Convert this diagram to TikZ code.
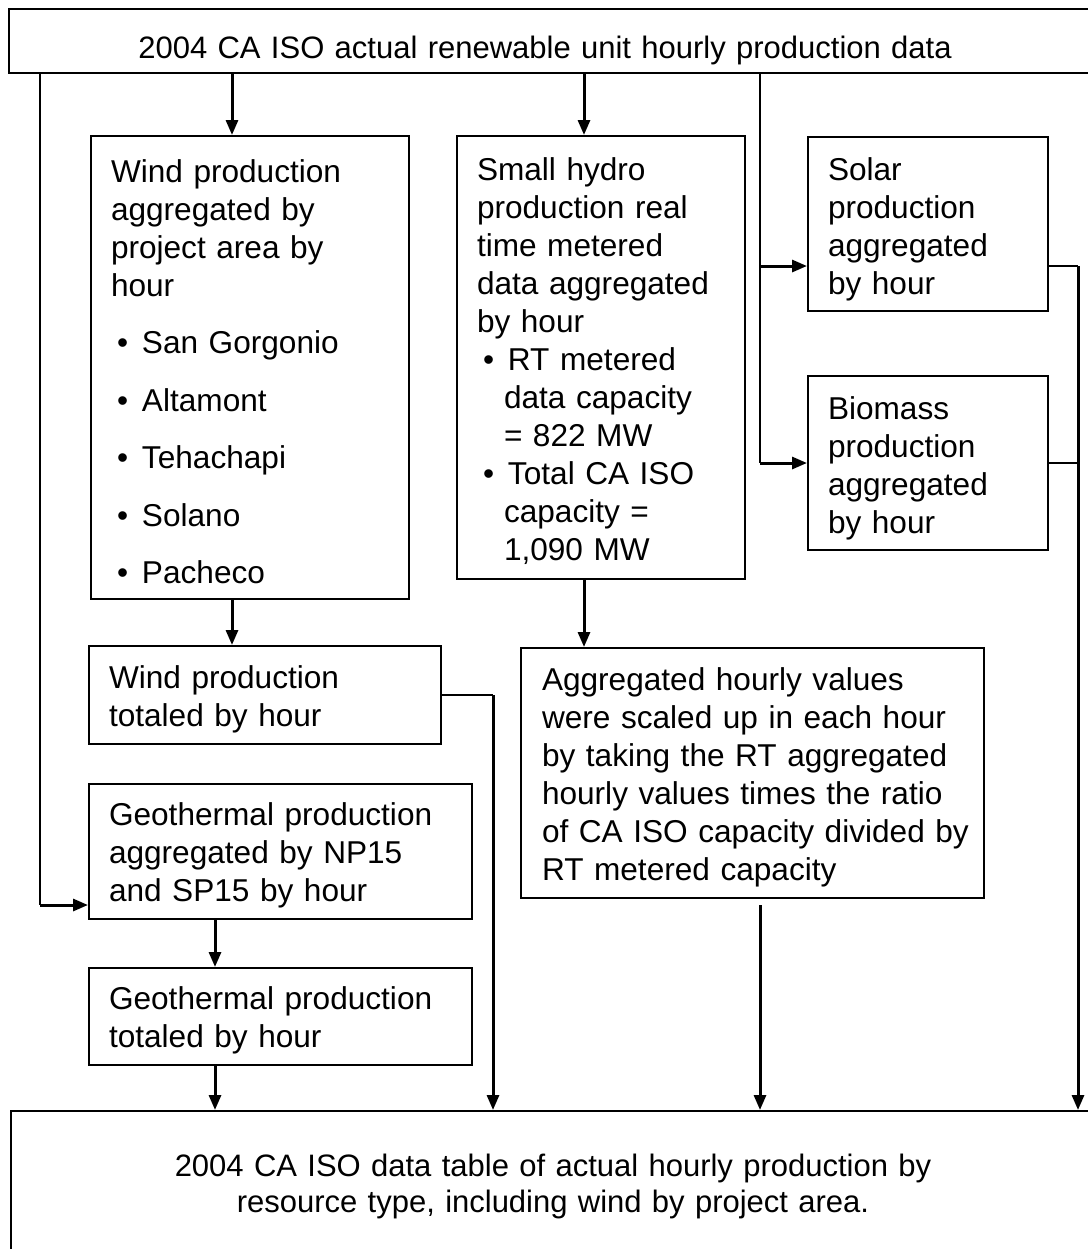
\documentclass[tikz,border=0pt]{standalone}
\usepackage{fontspec}
\setmainfont{Liberation Sans}
\usetikzlibrary{positioning,arrows.meta}
\tikzstyle{block}=[rectangle, draw=black, line width=1pt, anchor=north west, align=left,
        inner xsep=10pt, inner ysep=0pt, font=\fontsize{15.8}{19}\selectfont]
\tikzstyle{banner}=[block, align=center, text width=522pt, minimum width=542pt,
        font=\fontsize{15.5}{18}\selectfont]
\tikzstyle{flow}=[line width=1.5pt, -{Triangle[length=7.5pt,width=6pt]}]
\tikzstyle{feed}=[line width=1pt]
\newcommand{\bul}{\hspace*{3pt}\makebox[12.5pt][l]{\textbullet}}
\newcommand{\cont}{\hspace*{13.5pt}}
\newcommand{\topgap}{\rule{0pt}{15.5pt}}

\begin{document}
\begin{tikzpicture}[x=0.5pt,y=-0.5pt]
        \useasboundingbox (0,0) rectangle (1088,1249);
        \clip (0,0) rectangle (1088,1249);
        % source and result
        \node (source) [banner, minimum height=32pt] at (8,8)
        {\hspace*{-6pt}\rule{0pt}{20.5pt}2004 CA ISO actual renewable unit hourly production data};
        \node (table) [banner, minimum height=75pt] at (10,1110)
        {2004 CA ISO data table of actual hourly production by\\resource type, including wind by project area.};
        % aggregation boxes
        \node (wind) [block, text width=139pt, minimum width=159pt, minimum height=231.5pt] at (90,135)
        {
          \topgap Wind production\\aggregated by\\project area by\\hour\\[9.75pt]
          \bul San Gorgonio\\[9.75pt]
          \bul Altamont\\[9.75pt]
          \bul Tehachapi\\[9.75pt]
          \bul Solano\\[9.75pt]
          \bul Pacheco
        };
        \node (hydro) [block, text width=124pt, minimum width=144pt, minimum height=221.5pt] at (456,135)
        {
          \topgap Small hydro\\production real\\time metered\\data aggregated\\by hour\\
          \bul RT metered\\\cont data capacity\\\cont = 822 MW\\
          \bul Total CA ISO\\\cont capacity =\\\cont 1,090 MW
        };
        \node (solar) [block, text width=100pt, minimum width=120pt, minimum height=87pt] at (807,136)
        {\rule{0pt}{17pt}Solar\\production\\aggregated\\by hour};
        \node (biomass) [block, text width=100pt, minimum width=120pt, minimum height=87pt,
          below=31.5pt of solar.south west, anchor=north west]
        {\rule{0pt}{17pt}Biomass\\production\\aggregated\\by hour};
        \node (windtot) [block, text width=156pt, minimum width=176pt, minimum height=49pt] at (88,645)
        {\topgap Wind production\\totaled by hour};
        \node (scaled) [block, inner xsep=10.5pt, text width=210.5pt, minimum width=231.5pt, minimum height=125pt] at (520,647)
        {
          \topgap Aggregated hourly values\\\mbox{were scaled up in each hour}\\\mbox{by taking the RT aggregated}\\
          \mbox{hourly values times the ratio}\\\mbox{of CA ISO capacity divided by}\\RT metered capacity
        };
        \node (geo) [block, text width=171.5pt, minimum width=191.5pt, minimum height=67.5pt] at (88,783)
        {\topgap Geothermal production\\aggregated by NP15\\and SP15 by hour};
        \node (geotot) [block, text width=171.5pt, minimum width=191.5pt, minimum height=48.5pt,
          below=23.5pt of geo.south west, anchor=north west]
        {\topgap Geothermal production\\totaled by hour};
        % tap points
        \coordinate (tapgeo) at (40,72);
        \coordinate (tapwind) at (232,72);
        \coordinate (taphydro) at (584,72);
        \coordinate (tapside) at (760,72);
        \coordinate (solarjoin) at (760,266);
        \coordinate (geojoin) at (40,905);
        \coordinate (colgeo) at (215,0);
        \coordinate (colwind) at (493,0);
        \coordinate (colscaled) at (760,0);
        \coordinate (colside) at (1078,0);
        % connectors
        \draw[flow] (tapwind) -- (tapwind |- wind.north);
        \draw[flow] (taphydro) -- (taphydro |- hydro.north);
        \draw[feed] (tapside) -- (tapside |- biomass.west);
        \draw[flow] (solarjoin) -- (solarjoin -| solar.west);
        \draw[flow] (tapside |- biomass.west) -- (biomass.west);
        \draw[feed] (tapgeo) -- (geojoin);
        \draw[flow] (geojoin) -- (geojoin -| geo.west);
        \draw[flow] (tapwind |- wind.south) -- (tapwind |- windtot.north);
        \draw[flow] (taphydro |- hydro.south) -- (taphydro |- scaled.north);
        \draw[flow] (colgeo |- geo.south) -- (colgeo |- geotot.north);
        \draw[flow] (colgeo |- geotot.south) -- (colgeo |- table.north);
        \draw[feed] (windtot.east) -- (windtot.east -| colwind);
        \draw[flow] (windtot.east -| colwind) -- (colwind |- table.north);
        \draw[flow] ([yshift=-3pt]colscaled |- scaled.south) -- (colscaled |- table.north);
        \draw[feed] (solarjoin -| solar.east) -- (solarjoin -| colside);
        \draw[feed] (biomass.east) -- (biomass.east -| colside);
        \draw[flow] (solarjoin -| colside) -- (colside |- table.north);
      \end{tikzpicture}
\end{document}
